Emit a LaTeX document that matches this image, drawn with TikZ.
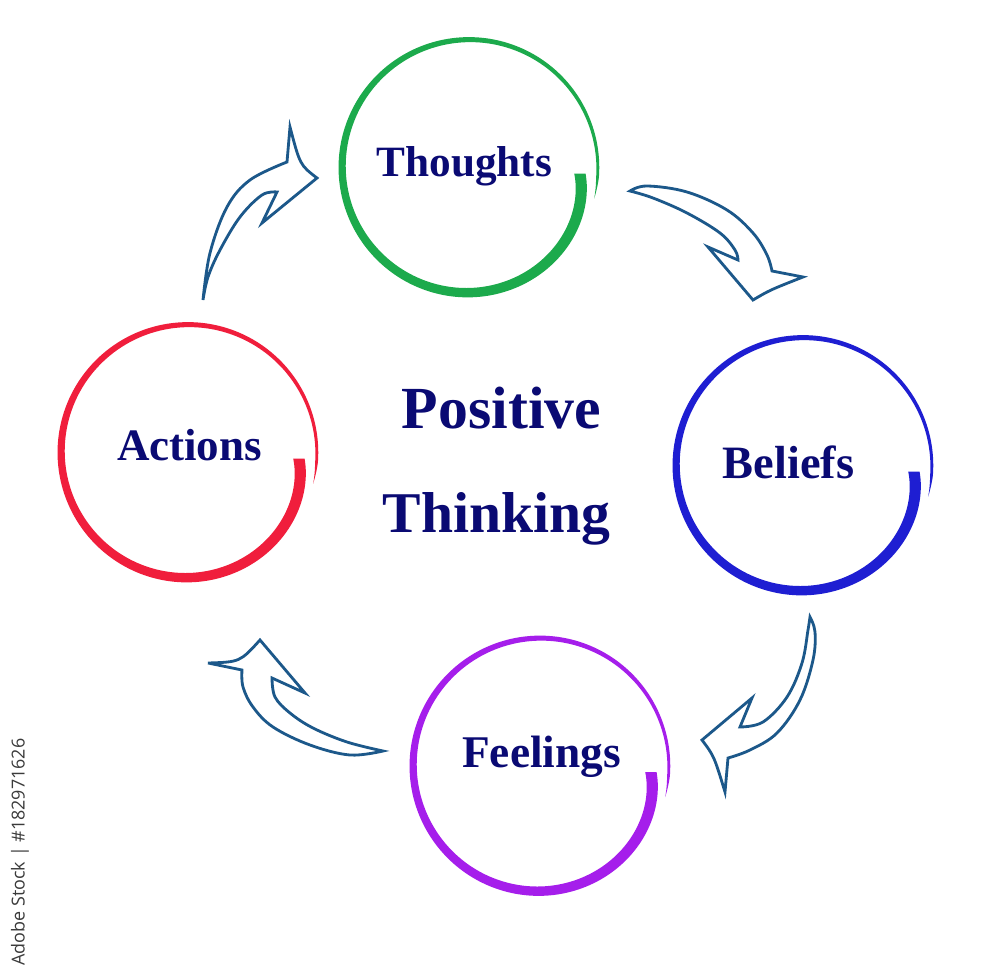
\documentclass[tikz,border=0pt]{standalone}
\usepackage{fontspec}
\setmainfont{Liberation Serif}
\newfontfamily\wmfont{Open Sans}
\definecolor{ringgreen}{HTML}{1CAA4C}
\definecolor{ringblue}{HTML}{1E1ED2}
\definecolor{ringpurple}{HTML}{A51EEB}
\definecolor{ringred}{HTML}{F01E3C}
\definecolor{textnavy}{HTML}{0A0A73}
\definecolor{arrowblue}{HTML}{1C588A}
\definecolor{wmgray}{HTML}{3A3A3A}
\newcommand{\brushring}[3]{%
  \fill[#3] plot[domain=0:1,samples=220,variable=\s]
     ({#1+(br(\s)+bw(\s)/2)*cos(bt(\s))},{#2+(br(\s)+bw(\s)/2)*sin(bt(\s))})
   -- plot[domain=1:0,samples=220,variable=\s]
     ({#1+(br(\s)-bw(\s)/2)*cos(bt(\s))},{#2+(br(\s)-bw(\s)/2)*sin(bt(\s))}) -- cycle;}
\begin{document}
\begin{tikzpicture}[x=0.05cm,y=-0.05cm,
  declare function={bt(\s)=3+371*\s; br(\s)=125+4*\s-14*exp(-12.4*\s); bw(\s)=(11.5-9*\s)*min(1,(1-\s)*40);},
  wordlabel/.style={text=textnavy, anchor=base, inner sep=0pt},
  arrowshape/.style={draw=arrowblue, line width=4pt, line join=miter, miter limit=8, fill=white}]
\useasboundingbox (0,0) rectangle (1000,975);
\fill[white] (0,0) rectangle (1000,975);

% brush circles
\brushring{469}{167.5}{ringgreen}
\brushring{803}{465.5}{ringblue}
\brushring{540}{766}{ringpurple}
\brushring{188}{452.5}{ringred}

% labels
\node[wordlabel, font=\bfseries\fontsize{61.5}{70}\selectfont] (thoughts) at (464.5,177) {Thoughts};
\node[wordlabel, font=\bfseries\fontsize{66}{70}\selectfont] (beliefs) at (788.5,478) {Beliefs};
\node[wordlabel, font=\bfseries\fontsize{64.5}{70}\selectfont] (feelings) at (541.5,767) {Feelings};
\node[wordlabel, font=\bfseries\fontsize{64}{70}\selectfont] (actions) at (189.5,460) {Actions};
\node[wordlabel, font=\bfseries\fontsize{85}{90}\selectfont] (positive) at (501.5,428) {Positive};
\node[wordlabel, font=\bfseries\fontsize{82}{90}\selectfont] (thinking) at (496.5,532) {Thinking};

% arrow: Actions -> Thoughts
\draw[arrowshape] plot[smooth, tension=0.6] coordinates {(203,300) (210,253) (227,207) (250,180) (287,162)}
  -- (290,127) .. controls (300,165) .. (317,178) -- (262,223) -- (277,192)
  -- plot[smooth, tension=0.6] coordinates {(277,192) (262,195) (240,217) (220,250) (208,277) (203,300)} -- cycle;

% arrow: Thoughts -> Beliefs
\draw[arrowshape] plot[smooth, tension=0.6] coordinates {(630,191) (647,186) (687,192) (727,210) (753,233) (767,255) (772,271)}
  -- (803,277) .. controls (770,290) .. (753,300) -- (708,247) -- (738,260)
  -- plot[smooth, tension=0.6] coordinates {(738,260) (735,250) (720,233) (687,213) (653,198) (630,191)} -- cycle;

% arrow: Beliefs -> Feelings
\draw[arrowshape] plot[smooth, tension=0.6] coordinates {(810,617) (815,632) (813,660) (800,700) (777,733) (750,750) (728,758)}
  -- (725,792) .. controls (714,756) .. (702,740) -- (752,698) -- (740,727)
  -- plot[smooth, tension=0.6] coordinates {(740,727) (763,722) (787,697) (802,663) (808,630) (810,617)} -- cycle;

% arrow: Feelings -> Actions
\draw[arrowshape] plot[smooth, tension=0.6] coordinates {(383,751) (350,755) (310,745) (273,727) (253,707) (243,687) (242,670)}
  -- (208,663) .. controls (240,662) .. (260,640) -- (305,693) -- (272,678)
  -- plot[smooth, tension=0.6] coordinates {(272,678) (275,697) (290,713) (313,728) (347,742) (383,751)} -- cycle;

% side text
\node[rotate=90, text=wmgray, font=\wmfont\fontsize{25.5}{28}\selectfont, inner sep=0pt] (credit) at (20,852) {Adobe Stock | \#182971626};
\end{tikzpicture}
\end{document}
